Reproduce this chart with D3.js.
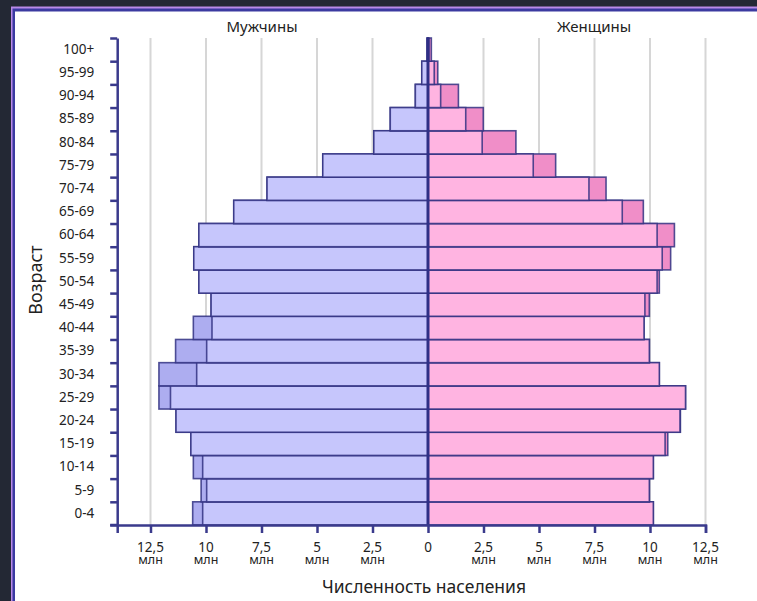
<!DOCTYPE html>
<html><head><meta charset="utf-8">
<script src="https://cdn.jsdelivr.net/npm/d3@7"></script>
<style>
html,body{margin:0;padding:0;background:#232834;overflow:hidden;}
svg{display:block;font-family:"Noto Sans","Open Sans",sans-serif;}
</style></head>
<body>
<svg id="c" width="757" height="601"></svg>
<script>
const ages = ["0-4","5-9","10-14","15-19","20-24","25-29","30-34","35-39","40-44","45-49","50-54","55-59","60-64","65-69","70-74","75-79","80-84","85-89","90-94","95-99","100+"];
const male   = [10.6,10.22,10.57,10.68,11.35,12.12,12.12,11.37,10.57,9.77,10.32,10.55,10.32,8.75,7.25,4.74,2.44,1.7,0.57,0.28,0.04];
const female = [10.15,9.97,10.15,10.8,11.37,11.6,10.42,9.97,9.73,9.97,10.42,10.93,11.1,9.7,8.02,5.75,3.96,2.49,1.37,0.44,0.15];
const xTickValues = [-12.5,-10,-7.5,-5,-2.5,0,2.5,5,7.5,10,12.5];
const titles = {left:"Мужчины", right:"Женщины", x:"Численность населения", y:"Возраст", unit:"млн"};

(function(){
const data = ages.map((a,i)=>({age:a, m:male[i], f:female[i]}));
const svg = d3.select("#c");
// frame
svg.append("rect").attr("x",11).attr("y",6.5).attr("width",800).attr("height",700).attr("fill","#b98ae8");
svg.append("rect").attr("x",12.5).attr("y",8.5).attr("width",800).attr("height",700).attr("fill","#3b3aa0");
svg.append("rect").attr("x",15).attr("y",11.5).attr("width",800).attr("height",700).attr("fill","#ffffff");

const yTop=38, yBot=525;
const x = d3.scaleLinear().domain([-14,12.5]).range([117.2,705.5]);
const y = d3.scaleBand().domain(ages.slice().reverse()).range([yTop,yBot]).padding(0);
const yLin = d3.scaleLinear().domain([0,ages.length]).range([yBot,yTop]);
const axisColor = "#3a3a8c";
const strokeC = "rgba(50,50,130,0.85)";

// gridlines
svg.append("g").selectAll("line").data(xTickValues.filter(v=>v!==0)).join("line")
  .attr("x1",d=>x(d)).attr("x2",d=>x(d)).attr("y1",yTop).attr("y2",yBot)
  .attr("stroke","#d6d6d6").attr("stroke-width",2);

const bars = svg.append("g");
function drawBar(val, i, fill, sign){
  const d = data[i];
  const x0 = x(0), x1 = x(sign*val);
  bars.append("rect")
    .attr("x",Math.min(x0,x1)).attr("width",Math.abs(x1-x0))
    .attr("y",y(d.age)).attr("height",y.bandwidth())
    .attr("fill",fill).attr("stroke",strokeC).attr("stroke-width",1.6);
}
data.forEach((d,i)=>{
  drawBar(d.m,i,"#adadf0",-1);
  drawBar(Math.min(d.m,d.f),i,"#c6c6fc",-1);
  drawBar(d.f,i,"#f08ec8",1);
  drawBar(Math.min(d.m,d.f),i,"#ffb4e1",1);
});

// zero line
svg.append("line").attr("x1",x(0)).attr("x2",x(0)).attr("y1",yTop).attr("y2",yBot)
  .attr("stroke","#2f2f85").attr("stroke-width",3);

// y axis with boundary ticks
const yAx = svg.append("g").attr("transform",`translate(${x(-14)},0)`)
  .call(d3.axisLeft(yLin).tickValues(d3.range(0,ages.length+1)).tickFormat("").tickSize(7).tickSizeOuter(0));
yAx.selectAll("path,line").attr("stroke",axisColor).attr("stroke-width",2.5);
// y labels
const yLab = svg.append("g").attr("transform",`translate(${x(-14)},0)`)
  .call(d3.axisLeft(y).tickSize(0).tickPadding(23));
yLab.select(".domain").remove();
yLab.selectAll("text").attr("font-size",13.5).attr("fill","#222").attr("font-family","Noto Sans, sans-serif");

// x axis
const xAx = svg.append("g").attr("transform",`translate(0,${yBot})`)
  .call(d3.axisBottom(x).tickValues(xTickValues).tickSize(8).tickSizeOuter(8).tickFormat(""));
xAx.selectAll("path,line").attr("stroke",axisColor).attr("stroke-width",2.5);
svg.append("line").attr("x1",x(-14)-7).attr("x2",x(-14)).attr("y1",yBot).attr("y2",yBot).attr("stroke",axisColor).attr("stroke-width",2.5);
const xl = svg.append("g").selectAll("text").data(xTickValues).join("text")
  .attr("x",d=>x(d)).attr("y",552).attr("text-anchor","middle")
  .attr("font-size",13.5).attr("fill","#222");
xl.append("tspan").attr("x",d=>x(d)).attr("dy",0)
  .text(d=>String(Math.abs(d)).replace(".",","));
xl.filter(d=>d!==0).append("tspan").attr("x",d=>x(d)).attr("dy",11.5).attr("font-size",12.5).text(titles.unit);

// titles
svg.append("text").attr("x",262).attr("y",32).attr("text-anchor","middle").attr("font-size",15).attr("fill","#222").text(titles.left);
svg.append("text").attr("x",594).attr("y",32).attr("text-anchor","middle").attr("font-size",15).attr("fill","#222").text(titles.right);
svg.append("text").attr("x",424).attr("y",593).attr("text-anchor","middle").attr("font-size",17.5).attr("fill","#222").text(titles.x);
svg.append("text").attr("transform","translate(42,280) rotate(-90)").attr("text-anchor","middle").attr("font-size",18).attr("fill","#222").text(titles.y);
})();
</script>
</body></html>
